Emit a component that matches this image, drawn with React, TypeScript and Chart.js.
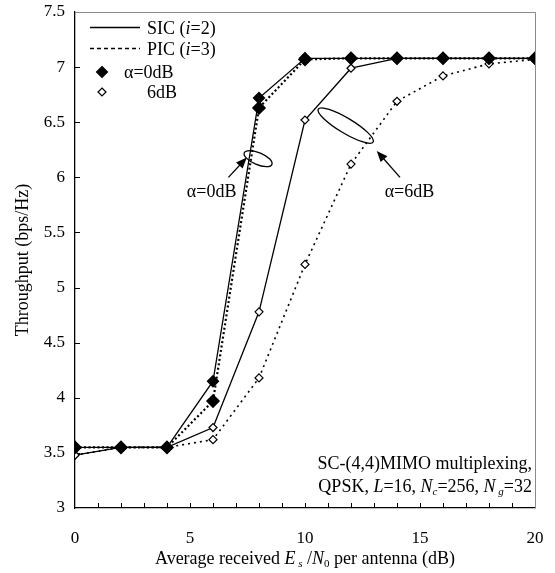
import React, { useEffect, useRef } from "react";
import { Chart, registerables } from "chart.js";

Chart.register(...registerables);

// ---- data ----
const snrDb = [0, 2, 4, 6, 8, 10, 12, 14, 16, 18, 20];
const sicAlpha0 = [3.55, 3.55, 3.55, 4.15, 6.72, 7.08, 7.08, 7.08, 7.08, 7.08, 7.08];
const picAlpha0 = [3.55, 3.55, 3.55, 3.97, 6.63, 7.07, 7.08, 7.08, 7.08, 7.08, 7.08];
const sicAlpha6 = [3.48, 3.55, 3.55, 3.73, 4.78, 6.52, 6.99, 7.08, 7.08, 7.08, 7.08];
const picAlpha6 = [3.48, 3.55, 3.55, 3.62, 4.18, 5.21, 6.12, 6.69, 6.92, 7.03, 7.07];
const xTickLabels = [0, 5, 10, 15, 20];
const xMinorTicks = [1, 2, 3, 4, 5, 6, 7, 8, 9, 10, 11, 12, 13, 14, 15, 16, 17, 18, 19];
const yTickLabels = [3, 3.5, 4, 4.5, 5, 5.5, 6, 6.5, 7, 7.5];

const FONT = '"Liberation Serif", "Times New Roman", serif';

type Seg = { t: string; it?: boolean; sub?: boolean };

function segFont(size: number, s: Seg) {
  const sz = s.sub ? Math.round(size * 0.62) : size;
  return `${s.it ? "italic " : ""}${sz}px ${FONT}`;
}

function drawRich(
  ctx: CanvasRenderingContext2D,
  segs: Seg[],
  x: number,
  y: number,
  size: number,
  align: "left" | "center" | "right"
) {
  ctx.save();
  ctx.textBaseline = "alphabetic";
  ctx.textAlign = "left";
  let total = 0;
  const widths = segs.map((s) => {
    ctx.font = segFont(size, s);
    const w = ctx.measureText(s.t).width;
    total += w;
    return w;
  });
  let cx = align === "left" ? x : align === "center" ? x - total / 2 : x - total;
  segs.forEach((s, i) => {
    ctx.font = segFont(size, s);
    ctx.fillText(s.t, cx, s.sub ? y + size * 0.18 : y);
    cx += widths[i];
  });
  ctx.restore();
}

function diamond(ctx: CanvasRenderingContext2D, x: number, y: number, r: number, filled: boolean) {
  ctx.save();
  ctx.beginPath();
  ctx.moveTo(x, y - r);
  ctx.lineTo(x + r, y);
  ctx.lineTo(x, y + r);
  ctx.lineTo(x - r, y);
  ctx.closePath();
  ctx.fillStyle = filled ? "#000" : "#fff";
  ctx.fill();
  ctx.lineWidth = 1.2;
  ctx.strokeStyle = "#000";
  ctx.stroke();
  ctx.restore();
}

function arrow(ctx: CanvasRenderingContext2D, x1: number, y1: number, x2: number, y2: number) {
  const ang = Math.atan2(y2 - y1, x2 - x1);
  const len = 11;
  const hw = 4.5;
  ctx.save();
  ctx.strokeStyle = "#000";
  ctx.fillStyle = "#000";
  ctx.lineWidth = 1.3;
  ctx.beginPath();
  ctx.moveTo(x1, y1);
  ctx.lineTo(x2 - Math.cos(ang) * len * 0.8, y2 - Math.sin(ang) * len * 0.8);
  ctx.stroke();
  ctx.beginPath();
  ctx.moveTo(x2, y2);
  ctx.lineTo(x2 - Math.cos(ang) * len - Math.sin(ang) * hw, y2 - Math.sin(ang) * len + Math.cos(ang) * hw);
  ctx.lineTo(x2 - Math.cos(ang) * len + Math.sin(ang) * hw, y2 - Math.sin(ang) * len - Math.cos(ang) * hw);
  ctx.closePath();
  ctx.fill();
  ctx.restore();
}

const zeroPad = (s: any) => {
  s.paddingTop = 0;
  s.paddingBottom = 0;
  s.paddingLeft = 0;
  s.paddingRight = 0;
};

const decorPlugin = {
  id: "decor",
  beforeDatasetsDraw(chart: any) {
    const { ctx, chartArea: a, scales } = chart;
    const xs = scales.x;
    const ys = scales.y;
    ctx.save();
    // gray frame top & right
    ctx.strokeStyle = "#8a8a8a";
    ctx.lineWidth = 1;
    ctx.beginPath();
    ctx.moveTo(a.left, a.top + 0.5);
    ctx.lineTo(a.right + 0.5, a.top + 0.5);
    ctx.lineTo(a.right + 0.5, a.bottom);
    ctx.stroke();
    // inward tick marks
    ctx.strokeStyle = "#000";
    ctx.lineWidth = 1;
    ctx.beginPath();
    xMinorTicks.forEach((v) => {
      const px = Math.round(xs.getPixelForValue(v)) + 0.5;
      ctx.moveTo(px, a.bottom);
      ctx.lineTo(px, a.bottom - 5);
    });
    yTickLabels.forEach((v) => {
      if (v === 3 || v === 7.5) return;
      const py = Math.round(ys.getPixelForValue(v)) + 0.5;
      ctx.moveTo(a.left, py);
      ctx.lineTo(a.left + 5, py);
    });
    ctx.stroke();
    ctx.restore();
  },
  afterDraw(chart: any) {
    const { ctx, chartArea: a, scales } = chart;
    const xs = scales.x;
    const ys = scales.y;
    const P = (x: number, y: number) => [xs.getPixelForValue(x), ys.getPixelForValue(y)];
    ctx.save();
    ctx.fillStyle = "#000";

    // ---- legend (top-left inside plot) ----
    const lx = a.left;
    const ly = a.top;
    ctx.strokeStyle = "#000";
    ctx.lineWidth = 1.3;
    ctx.beginPath();
    ctx.moveTo(lx + 15, ly + 15.5);
    ctx.lineTo(lx + 65, ly + 15.5);
    ctx.stroke();
    ctx.setLineDash([4, 3]);
    ctx.beginPath();
    ctx.moveTo(lx + 15, ly + 36.5);
    ctx.lineTo(lx + 65, ly + 36.5);
    ctx.stroke();
    ctx.setLineDash([]);
    diamond(ctx, lx + 27, ly + 60, 5.5, true);
    diamond(ctx, lx + 27, ly + 80, 4, false);
    drawRich(ctx, [{ t: "SIC (" }, { t: "i", it: true }, { t: "=2)" }], lx + 72, ly + 21.5, 18, "left");
    drawRich(ctx, [{ t: "PIC (" }, { t: "i", it: true }, { t: "=3)" }], lx + 72, ly + 42.5, 18, "left");
    drawRich(ctx, [{ t: "α=0dB" }], lx + 49, ly + 66, 18, "left");
    drawRich(ctx, [{ t: "6dB" }], lx + 72, ly + 86, 18, "left");

    // ---- annotations (anchored in data units) ----
    ctx.strokeStyle = "#000";
    ctx.lineWidth = 1.3;
    const [e0x, e0y] = P(7.96, 6.17);
    ctx.beginPath();
    ctx.ellipse(e0x, e0y, 15, 6, (23 * Math.PI) / 180, 0, Math.PI * 2);
    ctx.stroke();
    const [e6x, e6y] = P(11.77, 6.47);
    ctx.beginPath();
    ctx.ellipse(e6x, e6y, 32, 7.5, (31 * Math.PI) / 180, 0, Math.PI * 2);
    ctx.stroke();
    const [a0x1, a0y1] = P(6.67, 6.0);
    const [a0x2, a0y2] = P(7.47, 6.18);
    arrow(ctx, a0x1, a0y1, a0x2, a0y2);
    const [a6x1, a6y1] = P(14.13, 6.0);
    const [a6x2, a6y2] = P(13.12, 6.24);
    arrow(ctx, a6x1, a6y1, a6x2, a6y2);
    const [t0x, t0y] = P(5.94, 5.875);
    drawRich(ctx, [{ t: "α=0dB" }], t0x, t0y + 6, 18, "center");
    const [t6x, t6y] = P(14.54, 5.875);
    drawRich(ctx, [{ t: "α=6dB" }], t6x, t6y + 6, 18, "center");

    // ---- bottom-right caption ----
    drawRich(ctx, [{ t: "SC-(4,4)MIMO multiplexing," }], a.right - 3, a.bottom - 39, 18, "right");
    drawRich(
      ctx,
      [
        { t: "QPSK, " },
        { t: "L", it: true },
        { t: "=16, " },
        { t: "N", it: true },
        { t: "c", it: true, sub: true },
        { t: "=256, " },
        { t: "N", it: true },
        { t: " g", it: true, sub: true },
        { t: "=32" },
      ],
      a.right - 3,
      a.bottom - 16,
      18,
      "right"
    );

    // ---- axis titles ----
    ctx.fillStyle = "#000";
    drawRich(
      ctx,
      [
        { t: "Average received " },
        { t: "E", it: true },
        { t: " s", it: true, sub: true },
        { t: " /" },
        { t: "N", it: true },
        { t: "0", sub: true },
        { t: " per antenna (dB)" },
      ],
      (a.left + a.right) / 2,
      a.bottom + 56,
      18,
      "center"
    );
    ctx.save();
    ctx.translate(a.left - 47, (a.top + a.bottom) / 2);
    ctx.rotate(-Math.PI / 2);
    drawRich(ctx, [{ t: "Throughput (bps/Hz)" }], 0, 0, 18, "center");
    ctx.restore();

    ctx.restore();
  },
};

export default function App() {
  const ref = useRef<HTMLCanvasElement | null>(null);
  useEffect(() => {
    if (!ref.current) return;
    const tickFont = { family: FONT, size: 17 };
    const chart = new Chart(ref.current, {
      type: "line",
      data: {
        datasets: [
          {
            label: "SIC α=0dB",
            data: snrDb.map((x, i) => ({ x, y: sicAlpha0[i] })),
            borderColor: "#000",
            borderWidth: 1.3,
            pointStyle: "rectRot",
            pointRadius: 5.5,
            pointBackgroundColor: "#000",
            pointBorderColor: "#000",
            tension: 0,
          },
          {
            label: "PIC α=0dB",
            data: snrDb.map((x, i) => ({ x, y: picAlpha0[i] })),
            borderColor: "#000",
            borderWidth: 2.2,
            borderDash: [2, 2.5],
            pointStyle: "rectRot",
            pointRadius: 5.5,
            pointBackgroundColor: "#000",
            pointBorderColor: "#000",
            tension: 0,
          },
          {
            label: "SIC α=6dB",
            data: snrDb.map((x, i) => ({ x, y: sicAlpha6[i] })),
            borderColor: "#000",
            borderWidth: 1.3,
            pointStyle: "rectRot",
            pointRadius: 4,
            pointBorderWidth: 1.2,
            pointBackgroundColor: "#fff",
            pointBorderColor: "#000",
            tension: 0,
          },
          {
            label: "PIC α=6dB",
            data: snrDb.map((x, i) => ({ x, y: picAlpha6[i] })),
            borderColor: "#000",
            borderWidth: 1.6,
            borderDash: [2, 4],
            pointStyle: "rectRot",
            pointRadius: 4,
            pointBorderWidth: 1.2,
            pointBackgroundColor: "#fff",
            pointBorderColor: "#000",
            tension: 0,
          },
        ],
      },
      options: {
        animation: false,
        responsive: false,
        maintainAspectRatio: false,
        devicePixelRatio: 1,
        layout: { padding: { top: 12, right: 20, left: 0, bottom: 0 } },
        plugins: { legend: { display: false }, tooltip: { enabled: false } },
        scales: {
          x: {
            type: "linear",
            min: 0,
            max: 20,
            afterBuildTicks: (s: any) => {
              s.ticks = xTickLabels.map((v) => ({ value: v }));
            },
            afterFit: (s: any) => {
              s.height = 65;
              zeroPad(s);
            },
            grid: { display: false, drawTicks: false },
            border: { display: true, color: "#000", width: 1.3 },
            ticks: {
              padding: 20,
              color: "#000",
              font: tickFont,
              maxRotation: 0,
              autoSkip: false,
              callback: (v: any) => String(v),
            },
          },
          y: {
            type: "linear",
            min: 3,
            max: 7.5,
            afterBuildTicks: (s: any) => {
              s.ticks = yTickLabels.map((v) => ({ value: v }));
            },
            afterFit: (s: any) => {
              s.width = 75;
              zeroPad(s);
            },
            grid: { display: false, drawTicks: false },
            border: { display: true, color: "#000", width: 1.3 },
            ticks: {
              padding: 10,
              color: "#000",
              font: tickFont,
              autoSkip: false,
              callback: (v: any) => String(v),
            },
          },
        },
      },
      plugins: [decorPlugin],
    } as any);
    return () => chart.destroy();
  }, []);
  return (
    <div style={{ position: "fixed", left: 0, top: 0, width: 555, height: 573, background: "#fff" }}>
      <canvas ref={ref} width={555} height={573} style={{ display: "block", width: 555, height: 573 }} />
    </div>
  );
}
